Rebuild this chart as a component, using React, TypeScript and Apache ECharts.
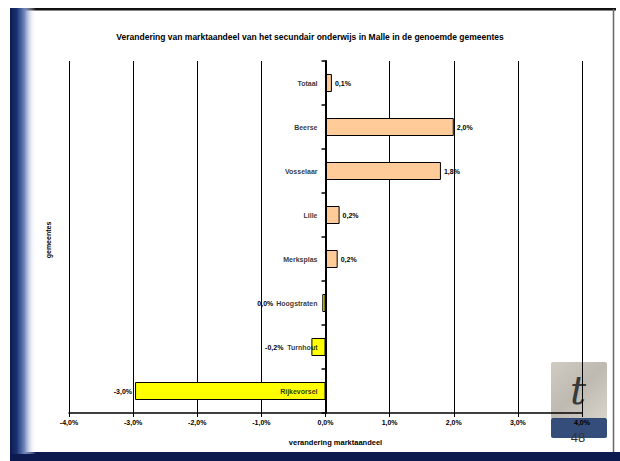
import React, { useEffect, useRef } from "react";
import * as echarts from "echarts";

const titleText =
  "Verandering van marktaandeel van het secundair onderwijs in Malle in de genoemde gemeentes";
const categories = [
  "Totaal",
  "Beerse",
  "Vosselaar",
  "Lille",
  "Merksplas",
  "Hoogstraten",
  "Turnhout",
  "Rijkevorsel",
];
const values = [0.1, 2.0, 1.8, 0.22, 0.19, -0.05, -0.22, -2.97];
const xMin = -4;
const xMax = 4;
const xStep = 1;
const xAxisTitle = "verandering marktaandeel";
const yAxisTitle = "gemeentes";
const pageNumber = "48";

const FONT = "Arial, 'Liberation Sans', sans-serif";

const fmt = (v: number) => {
  const r = Math.round(v * 10) / 10;
  const s = (Math.abs(r) < 0.05 ? 0 : r).toFixed(1).replace(".", ",");
  return s + "%";
};

const negOffsets: Record<string, number> = {
  Hoogstraten: -46,
  Turnhout: -25,
  Rijkevorsel: 0,
};

export default function App() {
  const ref = useRef<HTMLDivElement>(null);
  useEffect(() => {
    if (!ref.current) return;
    const chart = echarts.init(ref.current, undefined, { renderer: "svg" });
    const data = values.map((v, i) => {
      const neg = v < 0;
      return {
        value: v,
        itemStyle: {
          color: neg ? "#FFFF00" : "#FFCC99",
          borderColor: "#000",
          borderWidth: 1,
        },
        label: {
          position: neg ? "left" : "right",
          offset: [neg ? negOffsets[categories[i]] ?? 0 : 0, 0],
          distance: 3,
        },
      };
    });
    chart.setOption({
      animation: false,
      backgroundColor: "#ffffff",
      title: {
        text: titleText,
        left: "center",
        top: 27,
        textStyle: {
          fontFamily: FONT,
          fontSize: 8.5,
          fontWeight: "bold",
          color: "#000",
        },
      },
      grid: { left: 69, right: 38, top: 61, bottom: 48, containLabel: false },
      xAxis: {
        type: "value",
        min: xMin,
        max: xMax,
        interval: xStep,
        z: 2,
        name: xAxisTitle,
        nameLocation: "middle",
        nameGap: 25,
        nameTextStyle: {
          fontFamily: FONT,
          fontSize: 7.5,
          fontWeight: "bold",
          color: "#000",
          padding: [0, 0, 0, 20],
        },
        axisLine: { show: true, lineStyle: { color: "#000", width: 1.5 } },
        axisTick: { show: true, length: 4, lineStyle: { color: "#000" } },
        axisLabel: {
          formatter: (v: number) => fmt(v),
          fontFamily: FONT,
          fontSize: 7,
          fontWeight: "bold",
          color: "#000",
          margin: 6,
        },
        splitLine: { show: true, lineStyle: { color: "#000", width: 1 } },
      },
      yAxis: {
        type: "category",
        data: categories,
        inverse: true,
        z: 4,
        axisLine: {
          show: true,
          onZero: true,
          lineStyle: { color: "#000", width: 2 },
        },
        axisTick: { show: true, length: 4, lineStyle: { color: "#000", width: 1.5 } },
        axisLabel: { show: false },
        splitLine: { show: false },
      },
      series: [
        {
          type: "bar",
          data,
          barWidth: 18,
          label: {
            show: true,
            formatter: (p: any) => fmt(p.value),
            fontFamily: FONT,
            fontSize: 7,
            fontWeight: "bold",
            color: "#000",
          },
          z: 3,
        },
        {
          type: "scatter",
          data: categories.map((c) => [0, c]),
          symbolSize: 0,
          silent: true,
          z: 5,
          label: {
            show: true,
            position: "left",
            distance: 8,
            formatter: (p: any) => p.value[1],
            fontFamily: FONT,
            fontSize: 7,
            fontWeight: "bold",
            color: "#000",
          },
        },
      ],
      graphic: {
        z: -1,
        zlevel: -1,
        elements: [
          {
            type: "rect",
            silent: true,
            shape: { x: 10, y: 8, width: 606, height: 2.5 },
            style: { fill: "#111" },
          },
          {
            type: "rect",
            silent: true,
            shape: { x: 10, y: 452, width: 610, height: 9 },
            style: { fill: "#0c1a4f" },
          },
          {
            type: "rect",
            silent: true,
            shape: { x: 10, y: 8, width: 26, height: 446 },
            style: {
              fill: new echarts.graphic.LinearGradient(0, 0, 1, 0, [
                { offset: 0, color: "#0c1a4f" },
                { offset: 0.25, color: "#1a2f72" },
                { offset: 0.55, color: "#6d84bb" },
                { offset: 1, color: "rgba(255,255,255,0)" },
              ]),
            },
          },
          {
            type: "line",
            silent: true,
            shape: { x1: 613.5, y1: 9, x2: 613.5, y2: 452 },
            style: { stroke: "#666", lineWidth: 1.5 },
          },
          {
            type: "rect",
            silent: true,
            shape: { x: 551, y: 362, width: 56, height: 57, r: 2 },
            style: {
              opacity: 0.85,
              fill: new echarts.graphic.LinearGradient(0, 0, 1, 1, [
                { offset: 0, color: "#c9c3b8" },
                { offset: 0.5, color: "#b3ada3" },
                { offset: 1, color: "#d3cdc2" },
              ]),
            },
          },
          {
            type: "text",
            silent: true,
            x: 578,
            y: 390,
            style: {
              text: "t",
              font: "italic 40px 'DejaVu Serif', serif",
              fill: "#3a3a3a",
              align: "center",
              verticalAlign: "middle",
            },
          },
          {
            type: "rect",
            silent: true,
            shape: { x: 551, y: 418, width: 56, height: 20, r: 2 },
            style: { fill: "#1e3a6c", opacity: 0.9 },
          },
          {
            type: "text",
            silent: true,
            x: 578,
            y: 437,
            style: {
              text: pageNumber,
              font: `13px ${FONT}`,
              fill: "#333",
              align: "center",
              verticalAlign: "middle",
            },
          },
          {
            type: "text",
            silent: true,
            x: 48,
            y: 240,
            rotation: Math.PI / 2,
            style: {
              text: yAxisTitle,
              font: `bold 7px ${FONT}`,
              fill: "#000",
              align: "center",
              verticalAlign: "middle",
            },
          },
        ],
      },
    });
    return () => chart.dispose();
  }, []);
  return (
    <div
      ref={ref}
      style={{ position: "absolute", left: 0, top: 0, width: 620, height: 461 }}
    />
  );
}
